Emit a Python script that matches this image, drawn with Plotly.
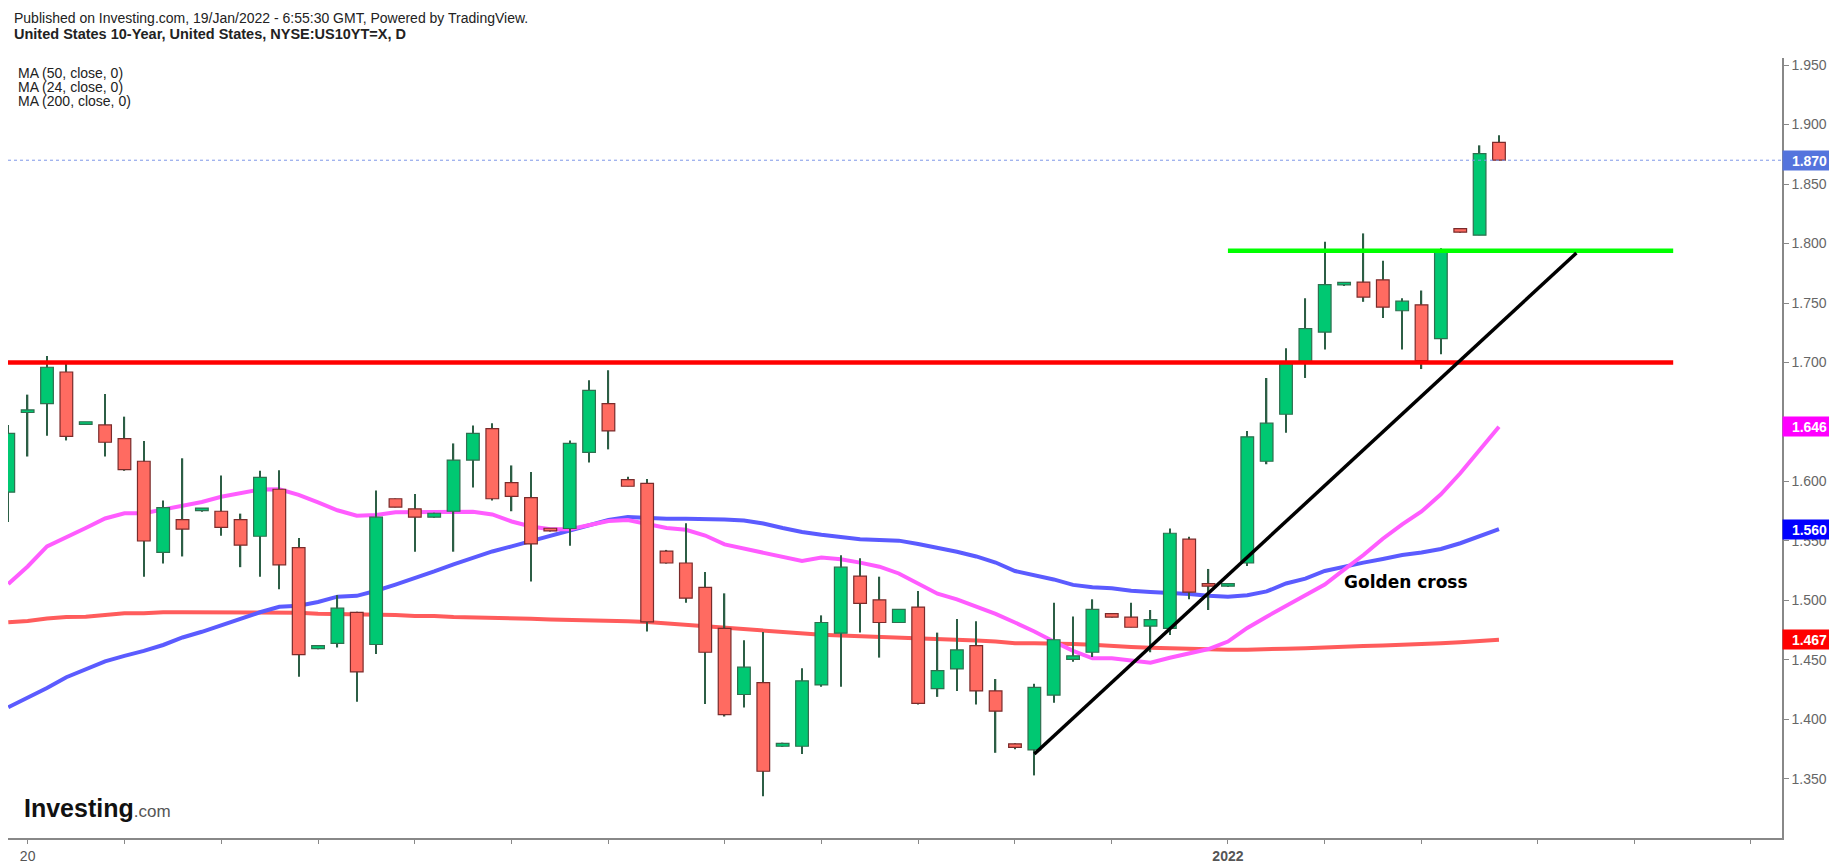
import plotly.graph_objects as go

# daily bars, US 10Y yield (bar index on the x axis)
OPEN = [1.591, 1.658, 1.6655, 1.692, 1.648, 1.6475, 1.636, 1.617, 1.5405, 1.568,
        1.5755, 1.575, 1.568, 1.554, 1.5935, 1.5445, 1.4595, 1.464, 1.490, 1.463,
        1.5855, 1.577, 1.570, 1.575, 1.618, 1.6445, 1.599, 1.5865, 1.560, 1.5605,
        1.6245, 1.6655, 1.6015, 1.5985, 1.5415, 1.5315, 1.511, 1.4765, 1.421, 1.431,
        1.3775, 1.3775, 1.429, 1.4725, 1.5205, 1.5005, 1.4815, 1.4945, 1.426, 1.4425,
        1.462, 1.424, 1.3795, 1.3745, 1.4205, 1.4505, 1.4565, 1.489, 1.486, 1.4785,
        1.4765, 1.5515, 1.5125, 1.512, 1.5315, 1.617, 1.6565, 1.700, 1.7255, 1.7652,
        1.7675, 1.7695, 1.7435, 1.7485, 1.720, 1.8125, 1.807, 1.885]
HIGH = [1.6475, 1.673, 1.7055, 1.6995, 1.650, 1.6735, 1.6545, 1.634, 1.584, 1.6195,
        1.5765, 1.605, 1.573, 1.609, 1.6095, 1.5525, 1.4625, 1.5045, 1.4905, 1.5925,
        1.5857, 1.5895, 1.5738, 1.632, 1.647, 1.649, 1.6135, 1.608, 1.5602, 1.6345,
        1.685, 1.6935, 1.604, 1.602, 1.5425, 1.565, 1.524, 1.506, 1.4665, 1.4735,
        1.3805, 1.443, 1.4875, 1.538, 1.5355, 1.520, 1.4925, 1.508, 1.473, 1.4845,
        1.4825, 1.434, 1.380, 1.430, 1.498, 1.4865, 1.501, 1.4892, 1.498, 1.492,
        1.5605, 1.5535, 1.5265, 1.5122, 1.6425, 1.687, 1.712, 1.754, 1.8015, 1.7656,
        1.8085, 1.7855, 1.754, 1.7605, 1.796, 1.8126, 1.8825, 1.891]
LOW = [1.566, 1.621, 1.6385, 1.6345, 1.6478, 1.621, 1.609, 1.520, 1.531, 1.537,
       1.5745, 1.5545, 1.528, 1.520, 1.5095, 1.436, 1.459, 1.4605, 1.415, 1.455,
       1.5783, 1.541, 1.5695, 1.541, 1.595, 1.584, 1.575, 1.516, 1.558, 1.546,
       1.616, 1.627, 1.596, 1.474, 1.531, 1.498, 1.413, 1.4025, 1.410, 1.3355,
       1.377, 1.371, 1.4275, 1.4275, 1.473, 1.452, 1.4813, 1.4125, 1.419, 1.424,
       1.4125, 1.372, 1.375, 1.353, 1.414, 1.4485, 1.4525, 1.4857, 1.4775, 1.4565,
       1.471, 1.501, 1.492, 1.512, 1.529, 1.6145, 1.641, 1.687, 1.711, 1.765,
       1.751, 1.7375, 1.711, 1.6945, 1.707, 1.809, 1.807, 1.870]
CLOSE = [1.6405, 1.660, 1.696, 1.638, 1.6485, 1.633, 1.610, 1.550, 1.578, 1.560,
         1.576, 1.5615, 1.5465, 1.6035, 1.530, 1.4545, 1.462, 1.4935, 1.440, 1.570,
         1.5785, 1.570, 1.5733, 1.618, 1.6405, 1.5855, 1.5875, 1.5475, 1.5585, 1.632,
         1.6765, 1.6425, 1.596, 1.482, 1.5315, 1.502, 1.4565, 1.404, 1.444, 1.3565,
         1.380, 1.4325, 1.4815, 1.528, 1.4975, 1.4815, 1.4925, 1.4135, 1.441, 1.4585,
         1.424, 1.407, 1.3765, 1.427, 1.467, 1.4535, 1.4925, 1.486, 1.4775, 1.484,
         1.5565, 1.507, 1.512, 1.5122, 1.6375, 1.649, 1.700, 1.7285, 1.7655, 1.7655,
         1.755, 1.7465, 1.7515, 1.7015, 1.7935, 1.8095, 1.8755, 1.870]

MA50 = [1.4103, 1.4181, 1.4265, 1.4355, 1.4419, 1.4489, 1.4535, 1.4576, 1.4626, 1.4689,
        1.4737, 1.4792, 1.4845, 1.4901, 1.4947, 1.4956, 1.4987, 1.5032, 1.5039, 1.5082,
        1.5134, 1.5187, 1.5244, 1.5303, 1.5357, 1.5412, 1.5455, 1.5500, 1.5548, 1.5592,
        1.5634, 1.5676, 1.5702, 1.5691, 1.5687, 1.5687, 1.5687, 1.5681, 1.5673, 1.5647,
        1.5609, 1.5576, 1.5552, 1.5532, 1.5514, 1.5508, 1.5503, 1.5475, 1.5443, 1.5410,
        1.5370, 1.5319, 1.5248, 1.5212, 1.5177, 1.5131, 1.5111, 1.5103, 1.5082, 1.5071,
        1.5066, 1.5055, 1.5039, 1.5031, 1.5044, 1.5076, 1.5143, 1.5184, 1.5248, 1.5285,
        1.5318, 1.5349, 1.5382, 1.5403, 1.5433, 1.5481, 1.5540, 1.5600]
MA24 = [1.5139, 1.5286, 1.5454, 1.5536, 1.5609, 1.5689, 1.5733, 1.5733, 1.5765, 1.5794,
        1.5828, 1.5872, 1.5901, 1.5933, 1.5935, 1.5887, 1.5824, 1.5758, 1.5712, 1.5718,
        1.5741, 1.5741, 1.5741, 1.5741, 1.5745, 1.5723, 1.5664, 1.5622, 1.5598, 1.5598,
        1.5630, 1.5668, 1.5676, 1.5639, 1.5609, 1.5594, 1.5546, 1.5471, 1.5437, 1.5397,
        1.5370, 1.5332, 1.5361, 1.5346, 1.5318, 1.5284, 1.5227, 1.5143, 1.5057, 1.5010,
        1.4950, 1.4887, 1.4815, 1.4740, 1.4655, 1.4577, 1.4514, 1.4514, 1.4496, 1.4477,
        1.4519, 1.4556, 1.4592, 1.4655, 1.4769, 1.4864, 1.4954, 1.5035, 1.5134, 1.5260,
        1.5382, 1.5519, 1.5640, 1.5748, 1.5892, 1.6069, 1.6269, 1.6460]
MA200 = [1.4817, 1.4828, 1.4849, 1.4861, 1.4864, 1.4882, 1.4892, 1.4892, 1.4901, 1.4901,
         1.4901, 1.4901, 1.4901, 1.4901, 1.4901, 1.4898, 1.4888, 1.4887, 1.4885, 1.4882,
         1.4878, 1.4870, 1.4870, 1.4861, 1.4859, 1.4849, 1.4847, 1.4847, 1.4840, 1.4836,
         1.4836, 1.4836, 1.4825, 1.4819, 1.4807, 1.4797, 1.4786, 1.4773, 1.4756, 1.4744,
         1.4735, 1.4723, 1.4712, 1.4705, 1.4700, 1.4692, 1.4688, 1.4678, 1.4673, 1.4668,
         1.4663, 1.4655, 1.4641, 1.4640, 1.4639, 1.4634, 1.4628, 1.4616, 1.4609, 1.4603,
         1.4597, 1.4591, 1.4588, 1.4587, 1.4587, 1.4587, 1.4595, 1.4599, 1.4607, 1.4611,
         1.4618, 1.4622, 1.4626, 1.4634, 1.4641, 1.4649, 1.4659, 1.4670]

BARS = list(range(len(CLOSE)))
X_TICKS = [1, 6, 11, 16, 21, 26, 31, 37, 42, 47, 52, 57, 63, 68, 73, 79, 84, 90]
X_LABELS = ["20", "", "", "", "", "", "", "", "", "", "", "", "<b>2022</b>", "", "", "", "", ""]
Y_TICKS = [1.35, 1.40, 1.45, 1.50, 1.55, 1.60, 1.65, 1.70, 1.75, 1.80, 1.85, 1.90, 1.95]

# drawings
RESIST_X = [-0.02, 86.0]
RESIST_Y = [1.700, 1.700]
TOP_X = [63.0, 86.0]
TOP_Y = [1.794, 1.794]
TREND_X = [53.0, 81.0]
TREND_Y = [1.371, 1.792]
LAST_PRICE = 1.870

X_RANGE = [-0.015, 91.62]
Y_RANGE = [1.3004, 1.9559]

UP, DOWN = "#00c872", "#ff6b61"
UP_EDGE, DOWN_EDGE = "#2f6f4f", "#7a2b2b"
WICK = "#2c5e45"
FONT = "Liberation Sans, Arial, sans-serif"

fig = go.Figure()

# moving averages under the candles
for vals, col in [(MA200, "#ff5c5c"), (MA50, "#5b5bff"), (MA24, "#ff5cff")]:
    fig.add_trace(go.Scatter(x=BARS, y=vals, mode="lines",
                             line=dict(color=col, width=4), hoverinfo="skip"))

# candles on an overlaid axis pair so they sit above the MA lines
up = [c >= o for o, c in zip(OPEN, CLOSE)]
fig.add_trace(go.Bar(x=BARS, base=LOW, y=[h - l for h, l in zip(HIGH, LOW)],
                     width=0.07, marker=dict(color=WICK, line=dict(width=0)),
                     xaxis="x2", yaxis="y2", hoverinfo="skip"))
body_lo = [min(o, c) for o, c in zip(OPEN, CLOSE)]
body_h = [max(abs(c - o), 0.0022) for o, c in zip(OPEN, CLOSE)]
fig.add_trace(go.Bar(x=BARS, base=body_lo, y=body_h, width=0.655,
                     marker=dict(color=[UP if u else DOWN for u in up],
                                 line=dict(color=[UP_EDGE if u else DOWN_EDGE for u in up],
                                           width=1.2)),
                     xaxis="x2", yaxis="y2", hoverinfo="skip"))

# hand drawn levels and trend line
fig.add_shape(type="line", xref="paper", x0=0, x1=1, yref="y", y0=LAST_PRICE, y1=LAST_PRICE,
              line=dict(color="#7f97e8", width=1, dash="dot"), layer="above")
fig.add_shape(type="line", xref="x", yref="y", x0=RESIST_X[0], x1=RESIST_X[1],
              y0=RESIST_Y[0], y1=RESIST_Y[1], line=dict(color="#ff0000", width=4.5), layer="above")
fig.add_shape(type="line", xref="x", yref="y", x0=TOP_X[0], x1=TOP_X[1],
              y0=TOP_Y[0], y1=TOP_Y[1], line=dict(color="#00ff00", width=4.5), layer="above")
fig.add_shape(type="line", xref="x", yref="y", x0=TREND_X[0], x1=TREND_X[1],
              y0=TREND_Y[0], y1=TREND_Y[1], line=dict(color="#000000", width=3.5), layer="above")

fig.add_annotation(x=72.2, y=1.5155, xref="x", yref="y", text="<b>Golden cross</b>",
                   showarrow=False, font=dict(family="DejaVu Sans", size=17, color="#000"))

# price boxes on the scale
boxes = [(LAST_PRICE, "#5474dd"), (MA24[-1], "#ff00ff"), (MA50[-1], "#0000ff"), (MA200[-1], "#ff0000")]
for val, col in boxes:
    fig.add_annotation(x=1, xref="paper", xanchor="left", y=val, yref="y", yanchor="middle",
                       text=f"<b>{val:.3f}</b>", showarrow=False, width=51, height=17,
                       bgcolor=col, borderpad=1, font=dict(family=FONT, size=14, color="white"))

# header text
head = [("Published on Investing.com, 19/Jan/2022 - 6:55:30 GMT, Powered by TradingView.", 1.0509, 0.0024, 14),
        ("<b>United States 10-Year, United States, NYSE:US10YT=X, D</b>", 1.0304, 0.0024, 14.5),
        ("MA (50, close, 0)", 0.9812, 0.0043, 14),
        ("MA (24, close, 0)", 0.9630, 0.0043, 14),
        ("MA (200, close, 0)", 0.9453, 0.0043, 14)]
for txt, yy, xx, fs in head:
    fig.add_annotation(x=xx, y=yy, xref="paper", yref="paper", xanchor="left", yanchor="middle",
                       text=txt, showarrow=False, font=dict(family=FONT, size=fs, color="#222"))

fig.add_annotation(x=0.008, y=0.038, xref="paper", yref="paper", xanchor="left", yanchor="middle",
                   text="<b>Investing</b><span style='font-size:17px;color:#555'>.com</span>",
                   showarrow=False, font=dict(family=FONT, size=25, color="#111"))

axis_common = dict(showgrid=False, zeroline=False)
# the page body adds 8px on the left/top, so the figure is 8px smaller
fig.update_layout(
    width=1829, height=858,
    margin=dict(l=0, r=55, t=50, b=28),
    paper_bgcolor="white", plot_bgcolor="white",
    showlegend=False, barmode="overlay",
    xaxis=dict(range=X_RANGE, tickvals=X_TICKS, ticktext=X_LABELS, ticks="outside",
               ticklen=4, tickcolor="#888", showline=True, linecolor="#888", linewidth=1.5,
               tickfont=dict(family=FONT, size=14, color="#555"), **axis_common),
    yaxis=dict(range=Y_RANGE, side="right", tickvals=Y_TICKS,
               ticktext=[f"{v:.3f}" for v in Y_TICKS], ticks="outside", ticklen=5,
               tickcolor="#888", showline=True, linecolor="#888", linewidth=1.5,
               tickfont=dict(family=FONT, size=14, color="#666"), **axis_common),
    xaxis2=dict(range=X_RANGE, overlaying="x", visible=False, **axis_common),
    yaxis2=dict(range=Y_RANGE, overlaying="y", visible=False, **axis_common),
)

fig.write_html("out.html")
